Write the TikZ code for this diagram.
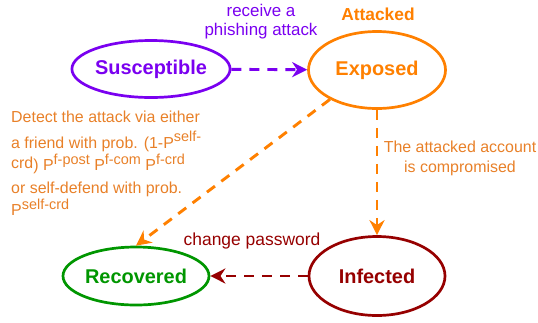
\documentclass[tikz,border=0pt]{standalone}
\usepackage{xcolor}
\usepackage{fontspec}
\setmainfont{Liberation Sans}
\usetikzlibrary{shapes,arrows.meta,positioning,calc}

\definecolor{suscol}{RGB}{122,0,240}
\definecolor{expcol}{RGB}{255,128,0}
\definecolor{exptxt}{RGB}{232,128,40}
\definecolor{reccol}{RGB}{0,150,0}
\definecolor{infcol}{RGB}{150,0,0}

\newcommand{\suptxt}[1]{\raisebox{0.4em}{\fontsize{14.5}{15}\selectfont #1}}

\begin{document}
\begin{tikzpicture}[x=1bp, y=-1bp,
    state/.style={ellipse, draw, line width=2.7bp, inner sep=0pt, font=\fontsize{20}{24}\selectfont\bfseries},
    trans/.style={line width=2.9bp, dash pattern=on 10bp off 8bp, -{Stealth[length=15bp, width=15bp]}}]
    \useasboundingbox (0,0) rectangle (538,322);

    \node (susc) [state, suscol, minimum width=148bp, minimum height=57bp] at (151,69) {Susceptible};
    \node (expo) [state, expcol, minimum width=137bp, minimum height=77bp] at (377,70) {Exposed};
    \node (infe) [state, infcol, minimum width=136bp, minimum height=79bp] at (377,276) {Infected};
    \node (reco) [state, reccol, minimum width=146bp, minimum height=58bp] at (136,276) {Recovered};

    \node (attk) [expcol, font=\fontsize{17.4}{20}\selectfont\bfseries] at (378,14) {Attacked};
    \node (recv) [suscol, align=center, font=\fontsize{17}{19}\selectfont] at (261,22) {receive a\\phishing attack};
    \node (comp) [exptxt, align=center, font=\fontsize{16}{20}\selectfont] at (460,158) {The attacked account\\is compromised};
    \node (chpw) [infcol, font=\fontsize{17.5}{20}\selectfont] at (252,241) {change password};
    \node (detc) [exptxt, align=left, anchor=north west, inner sep=0pt, font=\fontsize{16}{22.5}\selectfont] at (11,111)
        {Detect the attack via either\\[3bp]
         a friend with prob. (1-P\suptxt{self-}\\
         {\raisebox{0.15em}{crd}}) P\suptxt{f-post} P\suptxt{f-com} P\suptxt{f-crd}\\
         or self-defend with prob.\\
         P\suptxt{self-crd}};

    \draw [trans, suscol] (susc) -- (expo);
    \draw [trans, expcol] (expo) -- (infe);
    \draw [trans, expcol] (expo.212) -- (reco.north);
    \draw [trans, infcol] (infe) -- (reco);
\end{tikzpicture}
\end{document}
